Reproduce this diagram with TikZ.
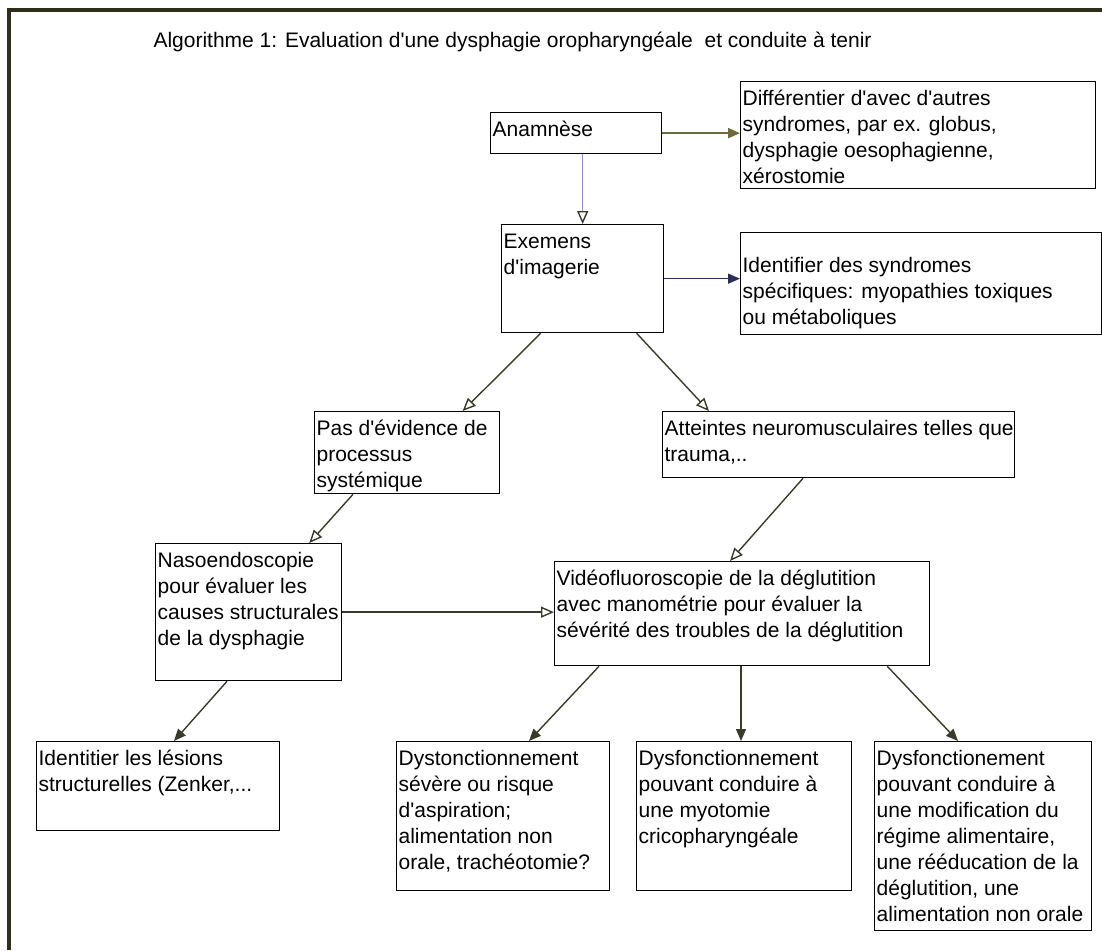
\documentclass[tikz,border=0pt]{standalone}
\usepackage{fontspec}
\setmainfont{Liberation Sans}
\usetikzlibrary{arrows.meta}
\definecolor{framecol}{HTML}{2E2E1A}
\definecolor{linecol}{HTML}{3A3A2C}
\definecolor{olivecol}{HTML}{6B6B3C}
\definecolor{lavcol}{HTML}{8C8CCC}
\definecolor{navycol}{HTML}{2C2C5A}
\newcommand{\apos}{\textquotesingle}
\newcommand{\boxtxt}[4][3pt]{\parbox[t][#3][t]{#2}{\vspace{#1}\begin{tabular}[t]{@{}l@{}}#4\end{tabular}}}

\begin{document}
\begin{tikzpicture}[x=1pt,y=-1pt,
	box/.style={draw,line width=1.3pt,anchor=north west,inner xsep=2pt,inner ysep=3pt,font=\fontsize{21}{26}\selectfont},
	con/.style={line width=1.4pt,color=linecol},
	opn/.style={con,-{Triangle[open,length=13pt,width=11pt]}},
	fil/.style={con,-{Triangle[length=12pt,width=10pt]}}]
				\useasboundingbox (0,0) rectangle (1102,950);
				\draw[framecol,line width=3.5pt] (1102,10) -- (9,10) -- (9,950);
				\node[anchor=west,font=\fontsize{21}{26}\selectfont] (title) at (150,42) {Algorithme 1: Evaluation d\apos une dysphagie oropharyngéale\ \ et conduite à tenir};
				\node[box] (anam) at (490,112) {\boxtxt{167pt}{35pt}{Anamnèse}};
				\node[box] (diff) at (740,81) {\boxtxt{351pt}{101pt}{Différentier d\apos avec d\apos autres\\syndromes, par ex. globus,\\dysphagie oesophagienne,\\xérostomie}};
				\node[box] (exam) at (501,224) {\boxtxt{158pt}{102pt}{Exemens\\d\apos imagerie}};
				\node[box] (ident) at (740,232) {\boxtxt[19pt]{357pt}{96pt}{Identifier des syndromes\\spécifiques: myopathies toxiques\\ou métaboliques}};
				\node[box] (pas) at (314,411) {\boxtxt{181pt}{76pt}{Pas d\apos évidence de\\processus\\systémique}};
				\node[box] (atte) at (662,411) {\boxtxt{348pt}{60pt}{Atteintes neuromusculaires telles que\\trauma,..}};
				\node[box] (naso) at (155,543) {\boxtxt{182pt}{131pt}{Nasoendoscopie\\pour évaluer les\\causes structurales\\de la dysphagie}};
				\node[box] (video) at (554,561) {\boxtxt{371pt}{98pt}{Vidéofluoroscopie de la déglutition\\avec manométrie pour évaluer la\\sévérité des troubles de la déglutition}};
				\node[box] (lesion) at (36,741) {\boxtxt{239pt}{83pt}{Identitier les lésions\\structurelles (Zenker,...}};
				\node[box] (dyst) at (396,741) {\boxtxt{209pt}{143pt}{Dystonctionnement\\sévère ou risque\\d\apos aspiration;\\alimentation non\\orale, trachéotomie?}};
				\node[box] (myot) at (636,741) {\boxtxt{211pt}{143pt}{Dysfonctionnement\\pouvant conduire à\\une myotomie\\cricopharyngéale}};
				\node[box] (regime) at (874,741) {\boxtxt{213pt}{183pt}{Dysfonctionement\\pouvant conduire à\\une modification du\\régime alimentaire,\\une rééducation de la\\déglutition, une\\alimentation non orale}};
				\draw[fil,olivecol,line width=2pt] (anam.east) -- (anam.east -| diff.west);
				\draw[con,lavcol,-{Triangle[open,length=13pt,width=11pt,color=linecol]}] (anam.south -| exam.north) -- (exam.north);
				\draw[fil,navycol] (exam.east) -- (exam.east -| ident.west);
				\draw[opn] ([xshift=-42pt]exam.south) -- ([xshift=55.5pt]pas.north);
				\draw[opn] ([xshift=54pt]exam.south) -- ([xshift=47pt]atte.north west);
				\draw[opn] ([xshift=39pt]pas.south west) -- ([xshift=-33pt]naso.north east);
				\draw[opn] ([xshift=141pt]atte.south west) -- ([xshift=176pt]video.north west);
				\draw[opn] (naso.east) -- (naso.east -| video.west);
				\draw[fil] ([xshift=72pt]naso.south west) -- ([xshift=138pt]lesion.north west);
				\draw[fil] ([xshift=45pt]video.south west) -- ([xshift=133pt]dyst.north west);
				\draw[fil] ([xshift=187pt]video.south west) -- ([xshift=105pt]myot.north west);
				\draw[fil] ([xshift=-43pt]video.south east) -- ([xshift=84pt]regime.north west);
			\end{tikzpicture}
\end{document}
